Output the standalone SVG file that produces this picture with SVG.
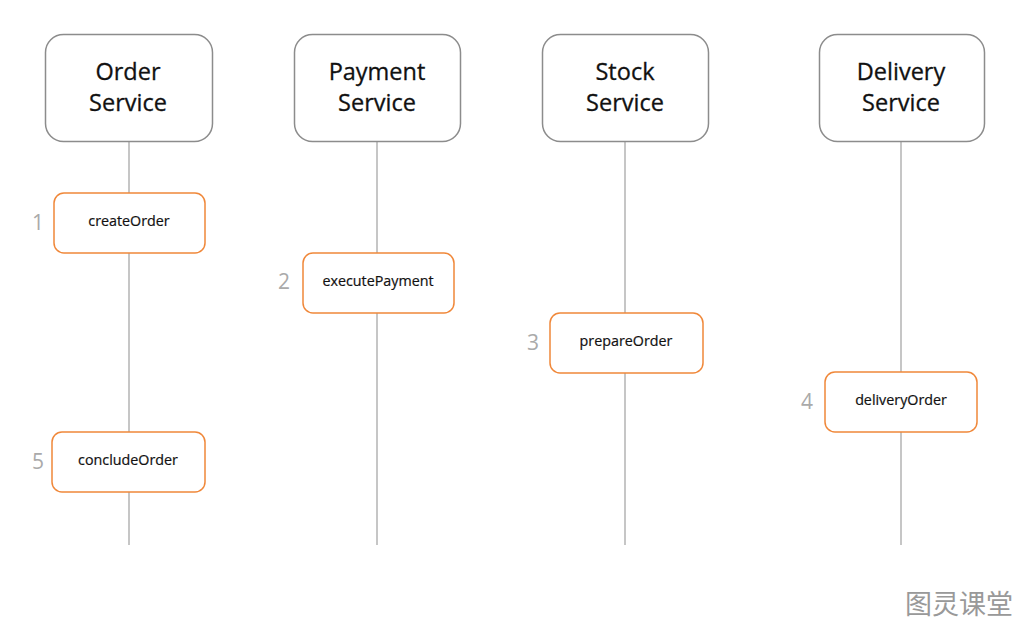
<svg xmlns="http://www.w3.org/2000/svg" width="1024" height="627" viewBox="0 0 1024 627">
<style>
.svc{fill:#fff;stroke:#8c8c8c;stroke-width:1.5}
.act{fill:#fff;stroke:#f0883a;stroke-width:1.5}
.life{stroke:#b3b3b3;stroke-width:1.5;fill:none}
.t1{font-family:"Open Sans","Liberation Sans",sans-serif;font-size:23.5px;fill:#111;text-anchor:middle;stroke:#111;stroke-width:0.3}
.t2{font-family:"Open Sans","Liberation Sans",sans-serif;font-size:14.3px;fill:#111;text-anchor:middle;stroke:#111;stroke-width:0.2}
.num{font-family:"Open Sans","Liberation Sans",sans-serif;font-size:21px;fill:#aaa;text-anchor:middle}
.wm{font-family:"Noto Sans CJK SC",sans-serif;font-size:27px;fill:#999;text-anchor:middle}
</style>
<rect width="1024" height="627" fill="#fff"/>
<g id="connectors">
<line class="life" x1="129" y1="141" x2="129" y2="545"/>
<line class="life" x1="377" y1="141" x2="377" y2="545"/>
<line class="life" x1="625" y1="141" x2="625" y2="545"/>
<line class="life" x1="901" y1="141" x2="901" y2="545"/>
</g>
<g id="order-service"><rect class="svc" x="45.5" y="34.5" width="167" height="107" rx="18"/><text class="t1" x="128" y="80">Order</text><text class="t1" x="128" y="111">Service</text></g>
<g id="payment-service"><rect class="svc" x="294.5" y="34.5" width="166" height="107" rx="18"/><text class="t1" x="377" y="80">Payment</text><text class="t1" x="377" y="111">Service</text></g>
<g id="stock-service"><rect class="svc" x="542.5" y="34.5" width="166" height="107" rx="18"/><text class="t1" x="625" y="80">Stock</text><text class="t1" x="625" y="111">Service</text></g>
<g id="delivery-service"><rect class="svc" x="819.5" y="34.5" width="165" height="107" rx="18"/><text class="t1" x="901" y="80">Delivery</text><text class="t1" x="901" y="111">Service</text></g>
<g id="createOrder"><rect class="act" x="54" y="193" width="151" height="60" rx="10"/><text class="t2" x="129" y="226">createOrder</text><text class="num" x="38" y="230">1</text></g>
<g id="executePayment"><rect class="act" x="303" y="253" width="151" height="60" rx="10"/><text class="t2" x="378" y="286">executePayment</text><text class="num" x="284" y="289">2</text></g>
<g id="prepareOrder"><rect class="act" x="550" y="313" width="153" height="60" rx="10"/><text class="t2" x="626" y="346">prepareOrder</text><text class="num" x="533" y="350">3</text></g>
<g id="deliveryOrder"><rect class="act" x="825" y="372" width="152" height="60" rx="10"/><text class="t2" x="901" y="405">deliveryOrder</text><text class="num" x="807" y="409">4</text></g>
<g id="concludeOrder"><rect class="act" x="52" y="432" width="153" height="60" rx="10"/><text class="t2" x="128" y="465">concludeOrder</text><text class="num" x="38" y="469">5</text></g>
<text class="wm" x="959" y="614">图灵课堂</text>
</svg>
